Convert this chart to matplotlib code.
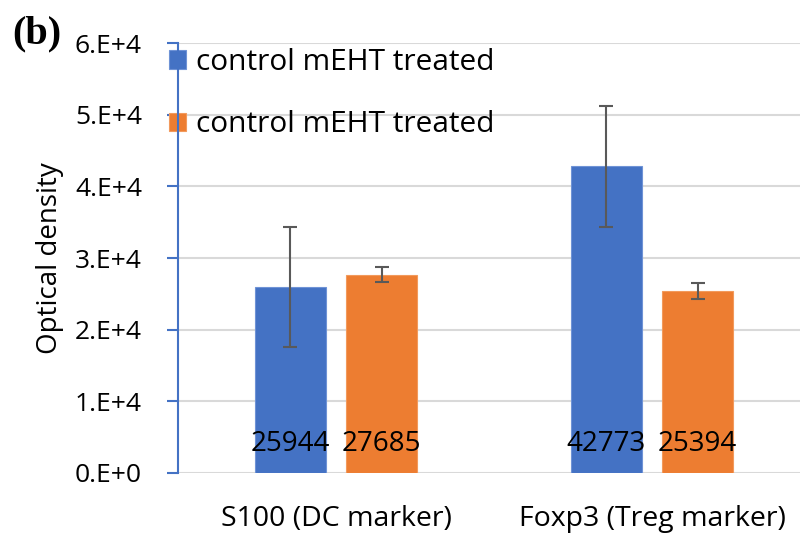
import matplotlib
matplotlib.use("Agg")
import matplotlib.pyplot as plt
import numpy as np

# marker groups and the two bar series
categories = ["S100 (DC marker)", "Foxp3 (Treg marker)"]
series_labels = ["control mEHT treated", "control mEHT treated"]
control = [25944, 42773]
treated = [27685, 25394]
control_err = [8400, 8400]
treated_err = [1100, 1150]
yticks = [0, 10000, 20000, 30000, 40000, 50000, 60000]
ytick_labels = ["0.E+0", "1.E+4", "2.E+4", "3.E+4", "4.E+4", "5.E+4", "6.E+4"]

blue = "#4472C4"
orange = "#ED7D31"
grid_gray = "#D9D9D9"
err_gray = "#595959"

plt.rcParams["font.family"] = ["Open Sans", "DejaVu Sans"]

fig = plt.figure(figsize=(8, 5.33), dpi=100)
ax = fig.add_axes([178 / 800, 1 - 473 / 533, 632 / 800, 430 / 533])

x = np.arange(len(categories))
width = 0.225
offset = 0.144

b1 = ax.bar(x - offset, control, width, color=blue, edgecolor="#6f93d6",
            linewidth=0.8, zorder=3, label=series_labels[0])
b2 = ax.bar(x + offset, treated, width, color=orange, edgecolor="#f29a5c",
            linewidth=0.8, zorder=3, label=series_labels[1])

ax.errorbar(x - offset, control, yerr=control_err, fmt="none", ecolor=err_gray,
            elinewidth=1.5, capsize=5, capthick=1.5, zorder=4)
ax.errorbar(x + offset, treated, yerr=treated_err, fmt="none", ecolor=err_gray,
            elinewidth=1.5, capsize=5, capthick=1.5, zorder=4)

# values printed near the base of each bar
for xi, v in zip(x - offset, control):
    ax.text(xi, 4000, str(v), ha="center", va="center", fontsize=20,
            color="black", zorder=5)
for xi, v in zip(x + offset, treated):
    ax.text(xi, 4000, str(v), ha="center", va="center", fontsize=20,
            color="black", zorder=5)

ax.set_xlim(-0.5, 1.5)
ax.set_ylim(0, 60000)
ax.set_yticks(yticks)
ax.set_yticklabels(ytick_labels, fontsize=19)
ax.set_xticks(x)
ax.set_xticklabels(categories, fontsize=20.5)
ax.tick_params(axis="x", length=0, pad=23)
ax.tick_params(axis="y", length=8, width=1.5, color=blue, pad=18)

ax.yaxis.grid(True, color=grid_gray, linewidth=1.5, zorder=0)
ax.set_axisbelow(True)
for side in ["top", "right", "bottom"]:
    ax.spines[side].set_visible(False)
ax.spines["left"].set_color(blue)
ax.spines["left"].set_linewidth(1.5)
ax.spines["left"].set_zorder(6)

ax.set_ylabel("Optical density", fontsize=20, labelpad=8)

ax.legend(handles=[b1, b2], loc="upper left", bbox_to_anchor=(169 / 800, 1 - 48 / 533),
          bbox_transform=fig.transFigure, frameon=False, fontsize=21.5,
          handlelength=0.58, handleheight=0.58, handletextpad=0.33,
          labelspacing=1.12, borderpad=0, borderaxespad=0)

fig.text(12 / 800, 1 - 34 / 533, "(b)", fontsize=29, fontweight="bold",
         family="Liberation Serif", va="center", ha="left")

fig.savefig("out.png", dpi=100)
